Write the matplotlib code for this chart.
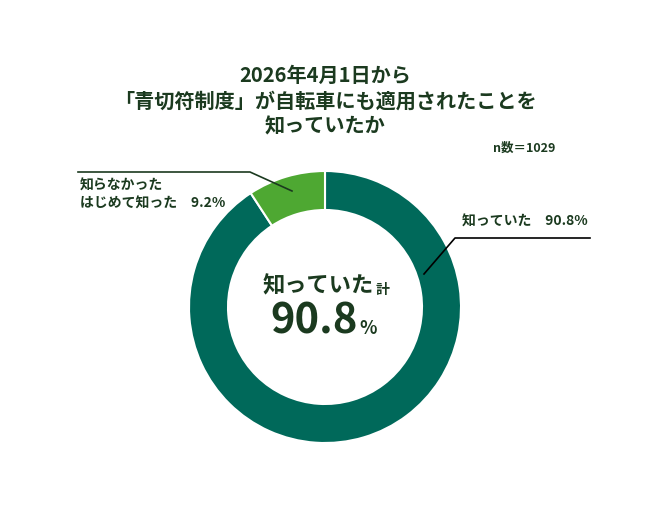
import matplotlib

matplotlib.use("Agg")
import matplotlib.pyplot as plt

plt.rcParams["font.family"] = ["Noto Sans CJK JP", "DejaVu Sans"]

# Data
labels = ["知っていた", "知らなかった\nはじめて知った"]
values = [90.8, 9.2]
colors = ["#00695a", "#4ea832"]
n_total = 1029

title = "2026年4月1日から\n「青切符制度」が自転車にも適用されたことを\n知っていたか"
text_color = "#1b3a1f"

W, H = 650, 518
fig = plt.figure(figsize=(W / 100, H / 100), dpi=100)
ax = fig.add_axes([0, 0, 1, 1])
ax.set_xlim(0, W)
ax.set_ylim(0, H)
ax.set_aspect("equal")
ax.axis("off")


def py(y):
    # pixel y (from top) -> data y
    return H - y


cx, cy, r_out, ring = 325, py(307), 136, 39
ax.pie(
    values,
    colors=colors,
    startangle=90,
    counterclock=False,
    radius=r_out,
    center=(cx, cy),
    wedgeprops=dict(width=ring, edgecolor="white", linewidth=1.5),
    frame=True,
)
ax.set_xlim(0, W)
ax.set_ylim(0, H)
ax.axis("off")

ax.text(325, py(101), title, ha="center", va="center", fontsize=14.5,
        fontweight="bold", color=text_color, linespacing=1.25)
ax.text(555, py(148), f"n数＝{n_total}", ha="right", va="center", fontsize=9,
        fontweight="bold", color=text_color)

# leader lines
ax.plot([78, 250, 292], [py(172), py(172), py(191)], color=text_color, lw=1.2)
ax.plot([424, 455, 590], [py(274), py(238), py(238)], color="black", lw=1.2)

ax.text(80, py(195), f"{labels[1]}　{values[1]}%", ha="left", va="center",
        fontsize=10, fontweight="bold", color=text_color, linespacing=1.35)
ax.text(588, py(222), f"{labels[0]}　{values[0]}%", ha="right", va="center",
        fontsize=10, fontweight="bold", color=text_color)

# centre summary
t1 = ax.text(374, py(286), labels[0], ha="right", va="center", fontsize=16,
             fontweight="bold", color=text_color)
ax.text(376, py(290), "計", ha="left", va="center", fontsize=10,
        fontweight="bold", color=text_color)
ax.text(358, py(322), f"{values[0]}", ha="right", va="center", fontsize=30,
        fontweight="bold", color=text_color)
ax.text(359, py(329), "%", ha="left", va="center", fontsize=13,
        fontweight="bold", color=text_color)

fig.savefig("out.png", dpi=100, facecolor="white")
